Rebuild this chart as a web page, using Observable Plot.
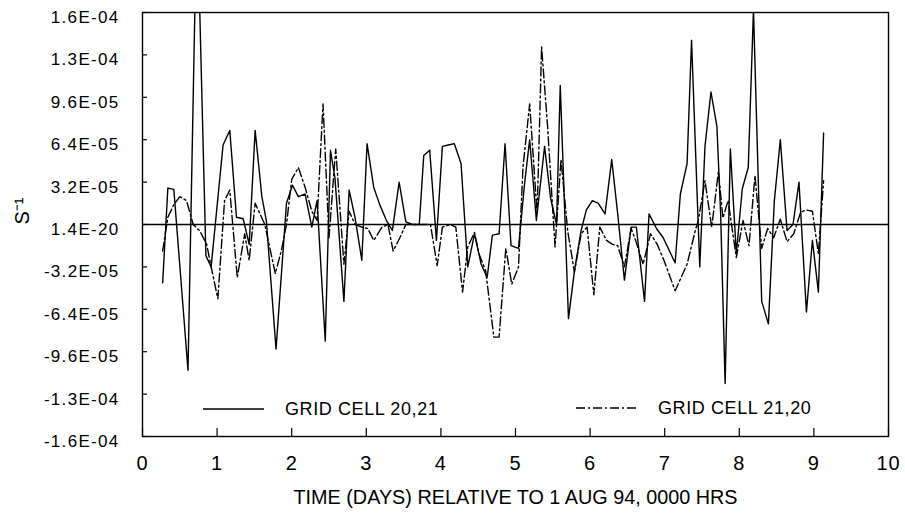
<!DOCTYPE html>
<html>
<head>
<meta charset="utf-8">
<script src="https://cdn.jsdelivr.net/npm/d3@7"></script>
<script src="https://cdn.jsdelivr.net/npm/@observablehq/plot@0.6"></script>
<style>
  html, body { margin: 0; padding: 0; background: #fff; }
  #wrap { position: relative; width: 905px; height: 515px; }
</style>
</head>
<body>
<div id="wrap"></div>
<script>
// ---- data ----
const seriesNames = ["GRID CELL 20,21", "GRID CELL 21,20"];
const xLabel = "TIME (DAYS) RELATIVE TO 1 AUG 94, 0000 HRS";
const yLabel = "S⁻¹";

const xTicks = [0, 1, 2, 3, 4, 5, 6, 7, 8, 9, 10];
const yTicks = [1.6e-4, 1.28e-4, 9.6e-5, 6.4e-5, 3.2e-5, 0, -3.2e-5, -6.4e-5, -9.6e-5, -1.28e-4, -1.6e-4];
const yTickLabels = ["1.6E-04", "1.3E-04", "9.6E-05", "6.4E-05", "3.2E-05", "1.4E-20",
  "-3.2E-05", "-6.4E-05", "-9.6E-05", "-1.3E-04", "-1.6E-04"];

// GRID CELL 20,21 (solid)
const solidDays = [0.27, 0.34, 0.42, 0.61, 0.73, 0.85, 0.92, 1.08, 1.17, 1.26, 1.35, 1.43, 1.51, 1.60, 1.66,
  1.79, 1.93, 2.01, 2.09, 2.18, 2.27, 2.34, 2.45, 2.52, 2.58, 2.70, 2.77, 2.85, 2.94, 3.01, 3.10, 3.18,
  3.27, 3.35, 3.44, 3.53, 3.62, 3.71, 3.77, 3.85, 3.94, 4.02, 4.10, 4.18, 4.27, 4.36, 4.45, 4.54, 4.62,
  4.69, 4.78, 4.86, 4.94, 5.04, 5.12, 5.19, 5.28, 5.39, 5.47, 5.55, 5.60, 5.71, 5.79, 5.88, 5.95, 6.03,
  6.11, 6.20, 6.29, 6.37, 6.46, 6.55, 6.62, 6.73, 6.79, 6.89, 6.98, 7.14, 7.21, 7.30, 7.36, 7.47, 7.54,
  7.62, 7.70, 7.75, 7.81, 7.88, 7.96, 8.04, 8.12, 8.19, 8.30, 8.39, 8.47, 8.55, 8.64, 8.72, 8.80, 8.90,
  8.98, 9.06, 9.13];
const solidVals = [-4.4e-5, 2.75e-5, 2.65e-5, -1.1e-4, 2.45e-4, -2.35e-5, -3.2e-5, 6.0e-5, 7.1e-5, 5.5e-6, 4.3e-6, -1.5e-5, 7.1e-5, 2.1e-5, 3e-6,
  -9.4e-5, 1.6e-5, 2.96e-5, 2.1e-5, 2.3e-5, -2e-6, 1.8e-5, -8.8e-5, 5.6e-5, 3.5e-5, -5.8e-5, 2.6e-5, 5e-6, -2.7e-5, 6.1e-5, 2.8e-5, 1.5e-5,
  3e-6, -4.5e-6, 3.2e-5, 2e-6, 0, 0, 5.2e-5, 5.6e-5, -1.2e-5, 5.9e-5, 6.0e-5, 6.1e-5, 4.6e-5, -3.2e-5, -7e-6, -3e-5, -4e-5,
  -8e-6, -7e-6, 6.1e-5, -1.6e-5, -1.8e-5, 3e-5, 6.4e-5, 3e-6, 5.9e-5, 2e-5, 0, 1.05e-4, -7.1e-5, -3.5e-5, -4.5e-6, 1.1e-5, 1.8e-5,
  1.6e-5, 8e-6, 4.9e-5, 8e-6, -4.2e-5, -2e-6, -2e-6, -5.8e-5, 8e-6, -3e-6, -1e-5, -2.9e-5, 2.3e-5, 4.6e-5, 1.39e-4, -3.2e-5, 5.9e-5,
  1.0e-4, 7.4e-5, 8e-6, -1.2e-4, 5.7e-5, -2.2e-5, 2.7e-5, 4.3e-5, 1.62e-4, -5.8e-5, -7.5e-5, 1.8e-5, 6.4e-5, -4.5e-6, 0, 3.2e-5, -6.6e-5,
  -1.2e-5, -5.1e-5, 6.9e-5];

// GRID CELL 21,20 (dash-dot)
const dashDays = [0.27, 0.34, 0.42, 0.50, 0.59, 0.68, 0.77, 0.86, 0.95, 1.01, 1.10, 1.17, 1.27, 1.37, 1.43,
  1.51, 1.64, 1.78, 1.86, 1.93, 2.00, 2.09, 2.18, 2.27, 2.34, 2.42, 2.50, 2.59, 2.70, 2.77, 2.85, 2.94,
  3.02, 3.10, 3.21, 3.29, 3.36, 3.45, 3.53, 3.62, 3.71, 3.80, 3.86, 3.95, 4.02, 4.13, 4.20, 4.29, 4.36,
  4.45, 4.51, 4.60, 4.71, 4.78, 4.87, 4.95, 5.04, 5.10, 5.19, 5.29, 5.35, 5.43, 5.53, 5.61, 5.70, 5.79,
  5.88, 5.96, 6.05, 6.13, 6.22, 6.30, 6.37, 6.46, 6.55, 6.61, 6.71, 6.81, 6.90, 6.99, 7.14, 7.30, 7.41,
  7.45, 7.54, 7.63, 7.72, 7.78, 7.85, 7.96, 8.05, 8.13, 8.21, 8.30, 8.38, 8.46, 8.55, 8.64, 8.73, 8.82,
  8.89, 8.98, 9.06, 9.13];
const dashVals = [-2.0e-5, 5.5e-6, 1.5e-5, 2.1e-5, 1.8e-5, 0, -5e-6, -1.5e-5, -4.0e-5, -5.6e-5, 1.8e-5, 2.6e-5, -4.0e-5, -7e-6, -2.7e-5,
  1.6e-5, 0, -3.7e-5, -2e-5, 0, 3.4e-5, 4.3e-5, 2.8e-5, 1e-5, 3e-6, 9.1e-5, -1e-5, 5.7e-5, -3e-5, 1e-5, 0, -2e-6,
  -3e-6, -1.2e-5, -2e-6, 0, -2e-5, -1e-5, 0, 0, 0, 0, 0, -3.1e-5, -2e-6, 0, -2e-6, -5.1e-5, -1.7e-5,
  -6e-6, -2.2e-5, -3.5e-5, -8.5e-5, -8.5e-5, -1.8e-5, -4.5e-5, -3.2e-5, 4.3e-5, 9.1e-5, 8e-6, 1.34e-4, 7.4e-5, -1.7e-5, 4.9e-5, -5e-6, -3.6e-5,
  -7e-6, -2e-6, -5.3e-5, -2e-6, -1.2e-5, -1.5e-5, -1.6e-5, -3.2e-5, -3e-6, -1.2e-5, -3e-5, -7e-6, -1.5e-5, -2.7e-5, -5e-5, -3e-5, -4.5e-6,
  3e-6, 3.3e-5, -2e-6, 4e-5, 5e-6, 1.8e-5, -2.5e-5, 3e-6, -1.6e-5, 3.7e-5, -1.8e-5, -3e-6, -1e-5, 4e-6, -1.3e-5, -7e-6, 9e-6,
  1.1e-5, 1e-5, -2.2e-5, 3.3e-5];

// ---- build tables ----
const solid = solidDays.map((d, i) => ({day: d, v: solidVals[i]}));
const dash = dashDays.map((d, i) => ({day: d, v: dashVals[i]}));

const W = 905, H = 515;
const mL = 142, mR = 17, mT = 12, mB = 79;
const sansFont = '"Liberation Sans", Arial, Helvetica, sans-serif';
const dashPattern = "9,3,2,3";

const chart = Plot.plot({
  width: W, height: H,
  marginLeft: mL, marginRight: mR, marginTop: mT, marginBottom: mB,
  x: {domain: [0, 10]},
  y: {domain: [-1.6e-4, 1.6e-4]},
  style: {background: "#fff", color: "#000", fontFamily: sansFont},
  marks: [
    Plot.ruleY([0], {stroke: "#000", strokeWidth: 1.3}),
    Plot.tickX(xTicks, {x: d => d, insetTop: H - mT - mB - 8, stroke: "#000", strokeWidth: 1.2}),
    Plot.tickY(yTicks, {y: d => d, insetRight: W - mL - mR - 5, stroke: "#000", strokeWidth: 1.2}),
    Plot.axisX({ticks: xTicks, tickSize: 0, tickPadding: 19, fontSize: 20,
      tickFormat: d => String(d), label: null}),
    Plot.axisY({ticks: yTicks, tickSize: 0, tickPadding: 23, fontSize: 17, dy: 5,
      tickFormat: d => yTickLabels[yTicks.indexOf(d)], label: null}),
    Plot.line(solid, {x: "day", y: "v", stroke: "#000", strokeWidth: 1.4, clip: true}),
    Plot.line(dash, {x: "day", y: "v", stroke: "#000", strokeWidth: 1.4, strokeDasharray: dashPattern, clip: true}),
    Plot.frame({stroke: "#000", strokeWidth: 1.4}),
    Plot.text([xLabel], {text: d => d, frameAnchor: "bottom", dy: 61, lineAnchor: "middle",
      fontSize: 20, className: "xtitle"}),
    Plot.text([yLabel], {text: d => d, frameAnchor: "left", dx: -120, dy: 0, rotate: -90,
      fontSize: 20})
  ]
});

document.getElementById("wrap").appendChild(chart);

const svg = d3.select(chart);
svg.selectAll('g[aria-label="y-axis tick label"] text').attr("letter-spacing", "1.3px");
svg.selectAll('g[aria-label="x-axis tick label"] text').attr("letter-spacing", "1px");
// narrow, widely spaced title as in the scanned original
svg.selectAll('.xtitle text').attr("textLength", 444).attr("lengthAdjust", "spacingAndGlyphs");

// legend inside the plot area
const leg = svg.append("g").attr("class", "legend").attr("text-anchor", "start");
const legendItems = [
  {name: seriesNames[0], x1: 203, x2: 264, tx: 285, y: 409, dash: null},
  {name: seriesNames[1], x1: 576, x2: 638, tx: 658, y: 408, dash: dashPattern}
];
for (const it of legendItems) {
  leg.append("line").attr("x1", it.x1).attr("x2", it.x2).attr("y1", it.y).attr("y2", it.y)
    .attr("stroke", "#000").attr("stroke-width", 1.3)
    .attr("stroke-dasharray", it.dash);
  leg.append("text").attr("x", it.tx).attr("y", it.y).attr("dy", "0.35em")
    .attr("text-anchor", "start")
    .attr("font-family", sansFont).attr("font-size", 18).attr("letter-spacing", "0.6px")
    .attr("fill", "#000").text(it.name);
}
</script>
</body>
</html>
